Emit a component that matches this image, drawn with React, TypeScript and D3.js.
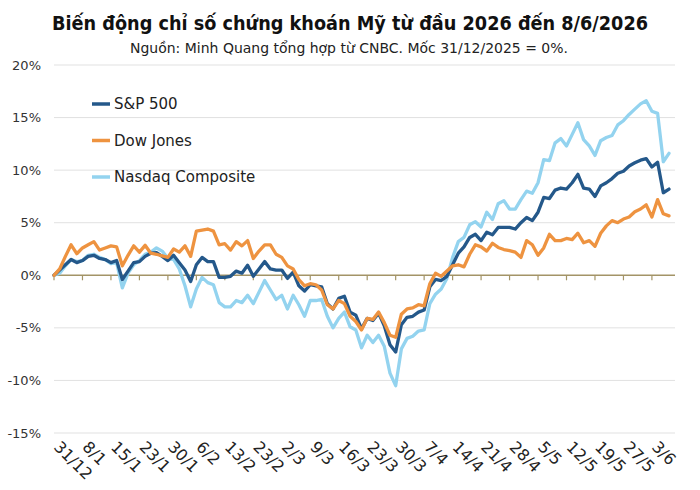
import React from 'react';
import * as d3 from 'd3';

// x-axis labels, one every 5 trading days
const tickLabels = [
  '31/12', '8/1', '15/1', '23/1', '30/1', '6/2', '13/2', '23/2', '2/3', '9/3', '16/3',
  '23/3', '30/3', '7/4', '14/4', '21/4', '28/4', '5/5', '12/5', '19/5', '27/5', '3/6',
];
const tickStep = 5;

const yTicks = [-15, -10, -5, 0, 5, 10, 15, 20];

// % change since 31/12/2025, one value per trading day
const sp500 = [
  0, 0.5, 1.0, 1.5, 1.2, 1.4, 1.8, 1.9, 1.6, 1.5,
  1.2, 1.4, -0.4, 0.4, 1.2, 1.3, 1.8, 2.1, 2.15, 1.8,
  1.4, 1.9, 1.2, 0.5, -0.6, 1.0, 1.7, 1.3, 1.3, -0.2,
  -0.2, -0.1, 0.4, 0.2, 0.95, -0.1, 0.6, 1.3, 0.6, 0.5,
  0.5, -0.3, 0.3, -1.0, -1.5, -0.9, -1.0, -1.1, -2.7, -3.2,
  -2.2, -2.0, -3.5, -3.8, -5.1, -4.1, -4.3, -3.6, -4.8, -6.6,
  -7.3, -4.7, -4.0, -3.9, -3.5, -3.3, -1.1, -0.4, -0.5, -0.1,
  1.0, 2.1, 2.7, 3.6, 3.9, 3.3, 4.1, 3.85, 4.55, 4.55,
  4.55, 4.4, 5.0, 5.5, 5.2, 6.0, 7.4, 7.3, 8.1, 8.3,
  8.2, 8.8, 9.6, 8.3, 8.2, 7.5, 8.5, 8.8, 9.2, 9.7,
  9.9, 10.4, 10.7, 10.95, 11.1, 10.3, 10.75, 7.85, 8.2,
];

const dowJones = [
  0, 0.6, 1.8, 2.9, 2.05, 2.6, 2.9, 3.2, 2.4, 2.6,
  2.8, 2.7, 0.9, 1.9, 2.8, 2.2, 2.85, 2.1, 2.0, 1.85,
  1.7, 2.5, 2.2, 2.8, 1.8, 4.2, 4.3, 4.4, 4.2, 2.9,
  3.0, 2.4, 3.2, 2.8, 3.3, 1.6, 2.3, 2.9, 2.9, 2.0,
  1.7, 0.9, 0.6, -0.4, -1.0, -0.8, -0.9, -1.4, -2.8, -3.2,
  -2.4, -2.7, -3.9, -4.4, -5.2, -4.1, -4.2, -3.5, -4.5, -5.7,
  -5.9, -3.7, -3.2, -3.1, -2.8, -2.9, -0.8, 0.2, -0.1, 0.4,
  0.9, 1.0, 0.8, 2.0, 2.9, 2.7, 2.3, 3.05, 2.65, 2.45,
  2.35, 2.2, 1.7, 3.3, 2.9, 1.9, 2.6, 3.9, 3.3, 3.3,
  3.5, 3.4, 4.0, 3.1, 3.3, 2.75, 4.0, 4.7, 5.2, 5.0,
  5.35, 5.55, 6.05, 6.3, 6.7, 5.55, 7.2, 5.85, 5.65,
];

const nasdaq = [
  0, 0.2, 0.9, 1.5, 1.3, 1.4, 1.9, 2.0, 1.7, 1.5,
  1.1, 1.2, -1.2, 0.2, 1.0, 1.4, 2.0, 2.2, 2.6, 2.3,
  1.6, 1.5, 0.6, -1.0, -3.0, -1.3, -0.2, -0.7, -0.9, -2.6,
  -3.0, -3.0, -2.4, -2.6, -1.9, -2.7, -1.6, -0.5, -1.4, -2.3,
  -1.9, -3.2, -1.9, -2.8, -3.9, -2.4, -2.4, -2.3, -3.9, -5.0,
  -4.1, -3.5, -4.9, -5.2, -6.9, -5.7, -6.4, -5.7, -6.75, -9.3,
  -10.5, -7.0, -6.0, -5.8, -5.3, -5.2, -2.7, -1.8, -1.3, -0.3,
  1.7, 3.2, 3.6, 4.8, 5.1, 4.6, 6.0, 5.3, 6.8, 7.1,
  6.3, 6.3, 7.2, 8.0, 7.8, 8.8, 11.0, 10.9, 12.6, 13.0,
  12.3, 13.4, 14.5, 12.9, 12.3, 11.4, 12.8, 13.1, 13.3, 14.3,
  14.7, 15.3, 15.8, 16.3, 16.6, 15.6, 15.4, 10.8, 11.6,
];

const series = [
  { name: 'Nasdaq Composite', values: nasdaq, color: '#93d3ef' },
  { name: 'S&P 500', values: sp500, color: '#24588a' },
  { name: 'Dow Jones', values: dowJones, color: '#ee9340' },
];
const legendOrder = ['S&P 500', 'Dow Jones', 'Nasdaq Composite'];

const W = 700;
const H = 490;
const font = '"DejaVu Sans", Verdana, sans-serif';

const App: React.FC = () => {
  const n = sp500.length;
  const x = d3.scaleLinear().domain([0, n - 1]).range([54, 669]);
  const y = d3.scaleLinear().domain([-15, 20]).range([433, 65]);

  const line = d3.line<number>()
    .x((_, i) => x(i))
    .y(d => y(d));

  const plotRight = 675;

  return (
    <svg width={W} height={H} viewBox={`0 0 ${W} ${H}`}
      style={{ position: 'absolute', left: 0, top: 0, background: '#fff' }}>
      <text x={350} y={30} textAnchor="middle" fontFamily={font} fontWeight="bold"
        fontSize={19} fill="#111" textLength={596} lengthAdjust="spacingAndGlyphs">
        Biến động chỉ số chứng khoán Mỹ từ đầu 2026 đến 8/6/2026
      </text>
      <text x={349} y={53} textAnchor="middle" fontFamily={font} fontSize={13.5}
        fill="#222" textLength={438} lengthAdjust="spacingAndGlyphs">
        Nguồn: Minh Quang tổng hợp từ CNBC. Mốc 31/12/2025 = 0%.
      </text>

      {/* gridlines */}
      {yTicks.filter(t => t !== 0).map(t => (
        <line key={t} x1={54} x2={plotRight} y1={y(t)} y2={y(t)} stroke="#e1e1e1" strokeWidth={1} />
      ))}

      {/* y labels */}
      {yTicks.map(t => (
        <text key={t} x={41} y={y(t)} dy="0.35em" textAnchor="end" fontFamily={font}
          fontSize={13} fill="#333">
          {`${t}%`}
        </text>
      ))}

      {/* zero axis with ticks */}
      <line x1={54} x2={plotRight} y1={y(0)} y2={y(0)} stroke="#a39467" strokeWidth={1.5} />
      {tickLabels.map((_, k) => (
        <line key={k} x1={x(k * tickStep)} x2={x(k * tickStep)} y1={y(0)} y2={y(0) + 5}
          stroke="#a39467" strokeWidth={1.2} />
      ))}

      {/* x labels */}
      {tickLabels.map((lab, k) => {
        const tx = x(k * tickStep) - 1;
        const ty = 448;
        return (
          <text key={lab} x={tx} y={ty} transform={`rotate(45 ${tx} ${ty})`}
            fontFamily={font} fontSize={16} fill="#222">
            {lab}
          </text>
        );
      })}

      {/* lines */}
      {series.map(s => (
        <path key={s.name} d={line(s.values) || ''} fill="none" stroke={s.color}
          strokeWidth={3.3} strokeLinejoin="round" strokeLinecap="round" />
      ))}

      {/* legend */}
      {legendOrder.map((name, i) => {
        const s = series.find(d => d.name === name)!;
        const ly = 104 + i * 36.5;
        return (
          <g key={name}>
            <line x1={92} x2={110} y1={ly} y2={ly} stroke={s.color} strokeWidth={3.5} />
            <text x={114} y={ly} dy="0.35em" fontFamily={font} fontSize={15} fill="#222">
              {name}
            </text>
          </g>
        );
      })}
    </svg>
  );
};

export default App;
